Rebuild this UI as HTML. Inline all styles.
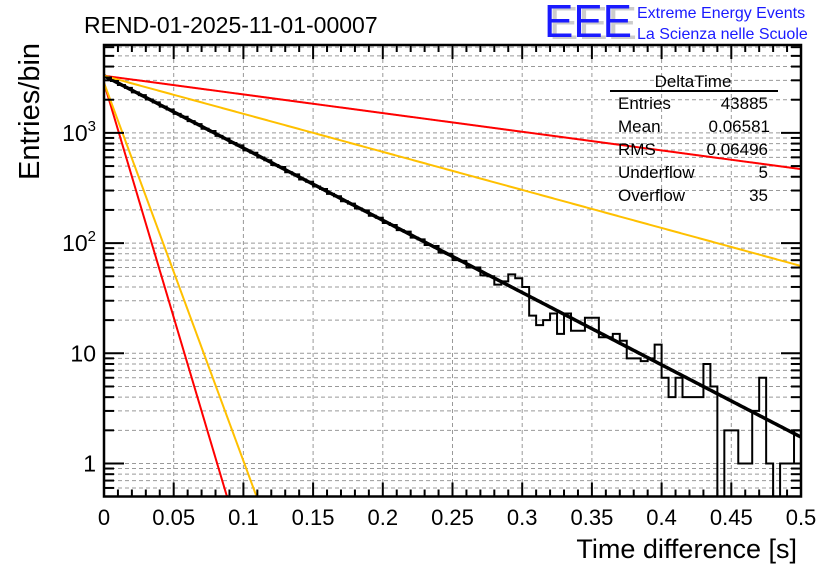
<!DOCTYPE html>
<html><head><meta charset="utf-8"><style>
body{margin:0;background:#fff;}
svg text{font-family:"Liberation Sans",sans-serif;}
</style></head><body>
<svg id="c" width="836" height="572" xmlns="http://www.w3.org/2000/svg">
<rect width="836" height="572" fill="#fff"/>
<g id="grid"></g>
<g id="curves"></g>
<g id="hist"></g>
<g id="axes"></g>
<text x="84" y="33" font-size="23">REND-01-2025-11-01-00007</text>
<g>
<text x="549" y="39" font-size="46" fill="#ccc" textLength="88" lengthAdjust="spacingAndGlyphs">EEE</text>
<text x="544" y="37" font-size="46" fill="#1a1aff" textLength="88" lengthAdjust="spacingAndGlyphs">EEE</text>
<text x="637" y="18" font-size="16" fill="#1a1aff">Extreme Energy Events</text>
<text x="637" y="39" font-size="16" fill="#1a1aff">La Scienza nelle Scuole</text>
</g>
<g font-size="17">
<text x="693" y="87" text-anchor="middle">DeltaTime</text>
<line x1="610" y1="91" x2="778" y2="91" stroke="#000" stroke-width="2"/>
<text x="618" y="109">Entries</text><text x="768" y="109" text-anchor="end">43885</text>
<text x="618" y="132">Mean</text><text x="770" y="132" text-anchor="end">0.06581</text>
<text x="618" y="155">RMS</text><text x="768" y="155" text-anchor="end">0.06496</text>
<text x="618" y="178">Underflow</text><text x="768" y="178" text-anchor="end">5</text>
<text x="618" y="201">Overflow</text><text x="768" y="201" text-anchor="end">35</text>
</g>
<text x="797" y="558" font-size="27" text-anchor="end">Time difference [s]</text>
<text transform="translate(39,180) rotate(-90)" font-size="29">Entries/bin</text>
</svg>
<script>
const counts=[3180,2960,2720,2560,2330,2200,2010,1890,1730,1630,1490,1400,1280,1200,1090,1040,940,890,810,770,695,660,598,565,512,490,440,420,378,360,
326,310,280,266,240,228,206,198,177,170,152,146,131,127,112,108,96,94,82,80,70,69,60,60,51,50,
42,45,52,48,40,22,18,20,23,15,23,16,16,21,21,14,14,15,13,9,9,8.5,9,12,6,4,6,4,4,4,8,5,0,2,2,1,1,3,6,1,0,1,1,2];
const binWidth=0.005;
const fitAmp=[3300,3300,3300,2850,2850];
const fitRate=[15.1,3.9,7.95,98,79];
const fitColor=["#000","#f00","#ffc000","#f00","#ffc000"];
const xTicks=[0,0.05,0.1,0.15,0.2,0.25,0.3,0.35,0.4,0.45,0.5];
const xTickLabels=["0","0.05","0.1","0.15","0.2","0.25","0.3","0.35","0.4","0.45","0.5"];
const yDecades=[1,10,100,1000];
const yDecadeLabels=["1","10","10²","10³"];
const NS="http://www.w3.org/2000/svg";
const L=104,R=801,T=45,B=496.5;
const X=t=>L+t/0.5*(R-L);
const Y=v=>463.5-110.2*Math.log10(v);
const yMin=Math.pow(10,(463.5-B)/110.2), yMax=Math.pow(10,(463.5-T)/110.2);
function mk(tag,attrs,parent){const e=document.createElementNS(NS,tag);for(const k in attrs)e.setAttribute(k,attrs[k]);parent.appendChild(e);return e;}
const grid=document.getElementById('grid'),axes=document.getElementById('axes');
for(let i=0;i<=50;i++){const t=i*0.01,x=X(t),maj=i%5===0;
 if(maj&&i>0&&i<50){const g=mk('line',{x1:x,y1:T,x2:x,y2:B,stroke:'#999','stroke-dasharray':'4,3','stroke-width':1},grid);}
 const len=maj?14:7;
 mk('line',{x1:x,y1:B,x2:x,y2:B-len,stroke:'#000','stroke-width':2},axes);
 mk('line',{x1:x,y1:T,x2:x,y2:T+len,stroke:'#000','stroke-width':2},axes);}
xTicks.forEach((t,i)=>{const e=mk('text',{x:X(t),y:525,'font-size':22,'text-anchor':'middle'},axes);e.textContent=xTickLabels[i];
 });
for(let d=0.1;d<=1000;d*=10){for(let m=1;m<=9;m++){const v=Math.round(d*m*1000)/1000;if(v<yMin||v>yMax)continue;const y=Y(v);
 const g=mk('line',{x1:L,y1:y,x2:R,y2:y,stroke:'#999','stroke-dasharray':'4,3','stroke-width':1},grid);
 const len=m===1?20:10;
 mk('line',{x1:L,y1:y,x2:L+len,y2:y,stroke:'#000','stroke-width':2},axes);
 mk('line',{x1:R,y1:y,x2:R-len,y2:y,stroke:'#000','stroke-width':2},axes);}}
yDecades.forEach((v,i)=>{const e=mk('text',{x:96,y:Y(v)+8,'font-size':23,'text-anchor':'end'},axes);
 if(v>=100){e.textContent='10';const s=mk('tspan',{dy:-10,'font-size':15},e);s.textContent=v===100?'2':'3';}else e.textContent=yDecadeLabels[i];
 });
mk('rect',{x:L,y:T,width:R-L,height:B-T,fill:'none',stroke:'#000','stroke-width':2.5},axes);
const curves=document.getElementById('curves');
fitAmp.forEach((a,k)=>{let pts=[];for(let i=0;i<=500;i++){const t=i*0.001;let v=a*Math.exp(-fitRate[k]*t);if(v<yMin){pts.push(X(t)+','+B);break;}pts.push(X(t)+','+Y(v));}
 const p=mk('polyline',{points:pts.join(' '),fill:'none',stroke:fitColor[k],'stroke-width':k===0?3.5:2},curves);
 });
const hist=document.getElementById('hist');
let d='';
counts.forEach((c,i)=>{const y=c>0?Math.max(T,Math.min(B,Y(c))):B;const x0=X(i*binWidth),x1=X((i+1)*binWidth);
 d+=(i===0?'M'+x0+','+y:'L'+x0+','+y)+' L'+x1+','+y+' ';});
const hp=mk('path',{d:d,fill:'none',stroke:'#000','stroke-width':2},hist);

</script>
</body></html>
